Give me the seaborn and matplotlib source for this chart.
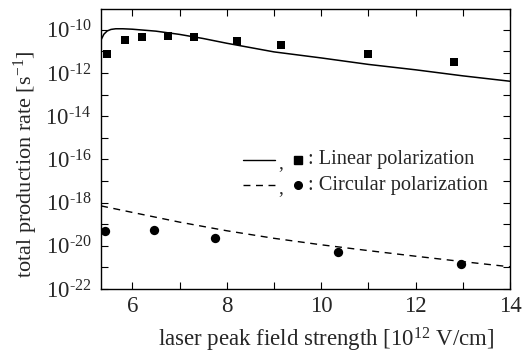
import numpy as np
import pandas as pd
import matplotlib
matplotlib.use('Agg')
import matplotlib.pyplot as plt
from matplotlib.ticker import FixedLocator, NullFormatter
import seaborn as sns

sns.set_style('ticks')
plt.rcParams['font.family'] = ['Liberation Serif', 'DejaVu Serif']
plt.rcParams['mathtext.fontset'] = 'custom'
plt.rcParams['mathtext.rm'] = 'Liberation Serif'
plt.rcParams['mathtext.it'] = 'Liberation Serif:italic'

# measured points
lin_x = [5.47, 5.85, 6.21, 6.76, 7.31, 8.22, 9.15, 10.98, 12.82]
lin_logy = [-11.11, -10.46, -10.32, -10.28, -10.32, -10.51, -10.69, -11.11, -11.48]
circ_x = [5.42, 6.46, 7.76, 10.36, 12.95]
circ_logy = [-19.31, -19.26, -19.63, -20.28, -20.83]

# theory curves
lin_curve_x = [5.34, 5.40, 5.47, 5.55, 5.65, 5.8, 6.0, 6.5, 7.0, 7.5, 8.0,
               9.0, 10.0, 11.0, 12.0, 13.0, 14.0]
lin_curve_logy = [-10.46, -10.2, -10.05, -9.98, -9.95, -9.95, -9.97, -10.06,
                  -10.21, -10.4, -10.62, -11.02, -11.3, -11.6, -11.85, -12.13, -12.38]
circ_curve_x = [5.34, 6.0, 7.0, 8.0, 9.0, 10.0, 11.0, 12.0, 13.0, 14.0]
circ_curve_logy = [-18.15, -18.45, -18.9, -19.3, -19.65, -19.95, -20.22,
                   -20.48, -20.73, -20.97]
ytick_exps = [-22, -20, -18, -16, -14, -12, -10]

lin_pts = pd.DataFrame({'x': lin_x, 'y': np.power(10.0, lin_logy)})
circ_pts = pd.DataFrame({'x': circ_x, 'y': np.power(10.0, circ_logy)})
lin_curve = pd.DataFrame({'x': lin_curve_x, 'y': np.power(10.0, lin_curve_logy)})
circ_curve = pd.DataFrame({'x': circ_curve_x, 'y': np.power(10.0, circ_curve_logy)})

fig = plt.figure(figsize=(5.32, 3.56), dpi=100)
ax = fig.add_axes([0.190, 0.188, 0.769, 0.787])
ax.set_yscale('log')

sns.lineplot(data=lin_curve, x='x', y='y', ax=ax, color='black', lw=1.1)
sns.lineplot(data=circ_curve, x='x', y='y', ax=ax, color='black', lw=1.0,
             linestyle=(0, (5, 4)))
sns.scatterplot(data=lin_pts, x='x', y='y', ax=ax, marker='s', s=40,
                color='black', edgecolor='black', linewidth=0)
sns.scatterplot(data=circ_pts, x='x', y='y', ax=ax, marker='o', s=45,
                color='black', edgecolor='black', linewidth=0)

ax.set_xlim(5.34, 14)
ax.set_ylim(1e-22, 10 ** -9.03)
ax.set_xticks([6, 8, 10, 12, 14])
ax.xaxis.set_minor_locator(FixedLocator([7, 9, 11, 13]))
ax.yaxis.set_major_locator(FixedLocator([10.0 ** e for e in ytick_exps]))
ax.set_yticklabels([r'$10^{\text{-%d}}$' % -e for e in ytick_exps])
ax.yaxis.set_minor_locator(FixedLocator([10.0 ** e for e in range(-21, -9, 2)]))
ax.yaxis.set_minor_formatter(NullFormatter())
ax.tick_params(which='both', direction='in', top=True, right=True,
               labelsize=16.5, width=0.8, color='black', length=5)
ax.tick_params(axis='x', pad=5)
ax.tick_params(axis='y', pad=7)
for sp in ax.spines.values():
    sp.set_linewidth(1.0)
    sp.set_color('black')

ax.set_xlabel('laser peak field strength [$10^{12}$ V/cm]', fontsize=16.5)
ax.xaxis.set_label_coords(0.55, -0.132)
ax.set_ylabel('total production rate [s$^{-1}$]', fontsize=16)
ax.yaxis.set_label_coords(-0.15, 0.446)

# legend
tr = ax.transAxes
for yy, ls, mk, txt in [(0.461, '-', 's', ': Linear polarization'),
                        (0.371, (0, (5, 4)), 'o', ': Circular polarization')]:
    ax.plot([0.347, 0.425], [yy, yy], transform=tr, color='black', lw=1.0,
            linestyle=ls)
    ax.text(0.432, yy - 0.012, ',', transform=tr, fontsize=14, va='center')
    ax.plot([0.482], [yy], transform=tr, color='black', marker=mk,
            markersize=5.5, linestyle='none')
    ax.text(0.505, yy, txt, transform=tr, fontsize=14.7, va='center')

fig.savefig('out.png', dpi=100)
